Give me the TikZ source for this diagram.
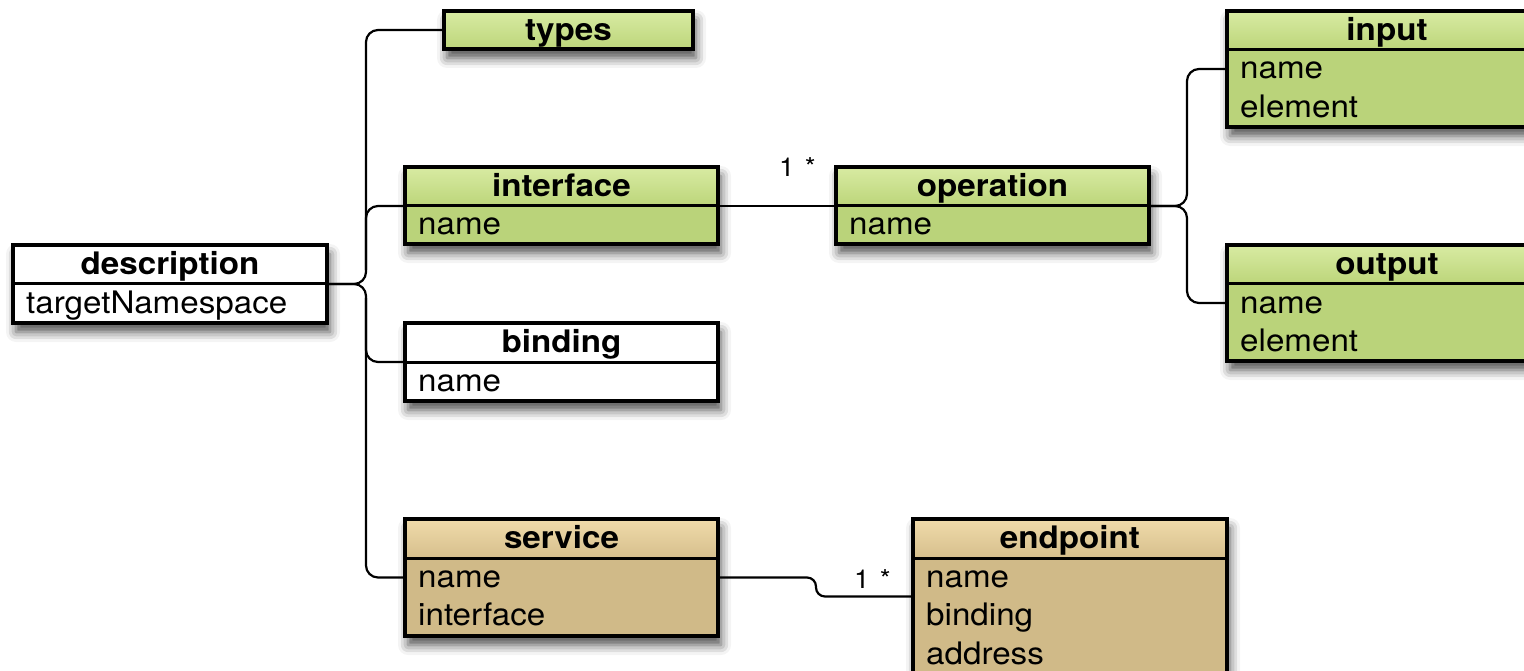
\documentclass[tikz,border=0pt]{standalone}
\usepackage{fontspec}
\setmainfont[FakeStretch=1.07]{TeX Gyre Heros}
\usetikzlibrary{calc,shadows.blur}

\definecolor{grnTop}{RGB}{216,235,162}
\definecolor{grnBot}{RGB}{188,213,122}
\definecolor{grnBody}{RGB}{186,211,122}
\definecolor{tanTop}{RGB}{240,219,170}
\definecolor{tanBot}{RGB}{214,191,141}
\definecolor{tanBody}{RGB}{208,186,136}

\tikzset{
  boxframe/.style={draw=black, line width=3.5pt},
  divider/.style={draw=black, line width=3pt},
  conn/.style={draw=black, line width=2.2pt, rounded corners=12pt},
  titletext/.style={font=\fontsize{31pt}{36pt}\selectfont\bfseries, inner sep=0pt, anchor=base},
  fieldtext/.style={font=\fontsize{31pt}{36pt}\selectfont, inner sep=0pt, anchor=base west},
  multtext/.style={font=\fontsize{26pt}{30pt}\selectfont, inner sep=0pt, anchor=base west},
  classbox/.style={inner sep=0pt, outer sep=0pt, anchor=north west,
    blur shadow={shadow xshift=3pt, shadow yshift=-9pt, shadow blur radius=10pt, shadow opacity=70}},
}

% \umlclass{name}{x}{y}{width}{height}{title}{header top}{header bottom}{body}
\newcommand\umlclass[9]{%
  \node[classbox, fill=#9, minimum width=#4pt, minimum height=#5pt] (#1) at (#2,-#3) {};
  \shade[top color=#7, bottom color=#8] (#1.north west) rectangle ($(#1.north east)+(0,-39)$);
  \draw[divider] ($(#1.north west)+(0,-39)$) -- ($(#1.north east)+(0,-39)$);
  \draw[boxframe] (#1.north west) rectangle (#1.south east);
  \node[titletext] (#1-title) at ($(#1.north)+(0,-29.5)$) {#6};
}
% \umlfield{class}{row}{text}
\newcommand\umlfield[3]{%
  \node[fieldtext] (#1-f#2) at ($(#1.north west)+(13,{-39-38.5*(#2-1)-29})$) {#3};
}

\begin{document}
\begin{tikzpicture}[x=1pt, y=1pt]
  \clip (0,0) rectangle (1524,-671);
  \useasboundingbox (0,0) rectangle (1524,-671);

  % classes
  \umlclass{types}{444}{11}{249}{38}{types}{grnTop}{grnBot}{grnBody}
  \umlclass{iface}{405}{167}{313}{77}{interface}{grnTop}{grnBot}{grnBody}
  \umlfield{iface}{1}{name}
  \umlclass{desc}{13}{245}{314}{78}{description}{white}{white}{white}
  \umlfield{desc}{1}{targetNamespace}
  \umlclass{bind}{405}{323}{313}{78}{binding}{white}{white}{white}
  \umlfield{bind}{1}{name}
  \umlclass{serv}{405}{519}{313}{117}{service}{tanTop}{tanBot}{tanBody}
  \umlfield{serv}{1}{name}
  \umlfield{serv}{2}{interface}
  \umlclass{op}{836}{167}{313}{77}{operation}{grnTop}{grnBot}{grnBody}
  \umlfield{op}{1}{name}
  \umlclass{inp}{1227}{11}{320}{116}{input}{grnTop}{grnBot}{grnBody}
  \umlfield{inp}{1}{name}
  \umlfield{inp}{2}{element}
  \umlclass{outp}{1227}{245}{320}{116}{output}{grnTop}{grnBot}{grnBody}
  \umlfield{outp}{1}{name}
  \umlfield{outp}{2}{element}
  \umlclass{ep}{913}{519}{314}{160}{endpoint}{tanTop}{tanBot}{tanBody}
  \umlfield{ep}{1}{name}
  \umlfield{ep}{2}{binding}
  \umlfield{ep}{3}{address}

  % junction points of the branching connectors
  \coordinate (jd) at (366,-284);
  \coordinate (jo) at (1187,-206);

  % description and its children
  \draw[conn] ($(desc.north east)+(0,-39)$) -- (jd) |- (types.west);
  \draw[conn] ($(desc.north east)+(0,-39)$) -- (jd) |- ($(serv.north west)+(0,-58.5)$);
  \draw[conn] ($(jd)+(0,14)$) |- ($(iface.north west)+(0,-39)$);
  \draw[conn] ($(jd)+(0,-14)$) |- ($(bind.north west)+(0,-39)$);

  % interface -- operation
  \draw[conn] ($(iface.north east)+(0,-39)$) -- ($(op.north west)+(0,-39)$);
  \node[multtext] (m1) at (779,-177) {1 \kern2.5pt*};

  % operation -- input / output
  \draw[conn] ($(op.north east)+(0,-39)$) -- (jo) |- ($(inp.north west)+(0,-58)$);
  \draw[conn] ($(op.north east)+(0,-39)$) -- (jo) |- ($(outp.north west)+(0,-58)$);

  % service -- endpoint
  \draw[conn, rounded corners=9pt] ($(serv.north east)+(0,-58.5)$) -- ++(98,0) |- ($(ep.north west)+(0,-77.5)$);
  \node[multtext] (m2) at (854,-588) {1 \kern2.5pt*};
\end{tikzpicture}
\end{document}
